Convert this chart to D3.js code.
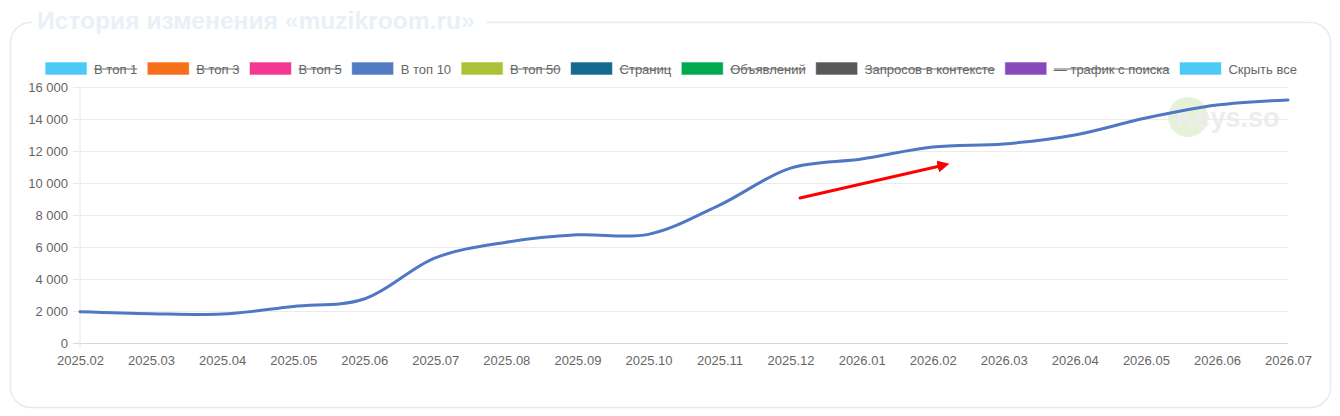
<!DOCTYPE html>
<html>
<head>
<meta charset="utf-8">
<script src="https://cdn.jsdelivr.net/npm/d3@7"></script>
<style>
  html, body { margin: 0; padding: 0; background: #fff; }
  svg { display: block; font-family: "Liberation Sans", Arial, Helvetica, sans-serif; }
</style>
</head>
<body>
<svg id="chart"></svg>
<script>
const W = 1340, H = 416;

const months = ["2025.02", "2025.03", "2025.04", "2025.05", "2025.06", "2025.07", "2025.08", "2025.09",
  "2025.10", "2025.11", "2025.12", "2026.01", "2026.02", "2026.03", "2026.04", "2026.05", "2026.06", "2026.07"];
const top10 = [1950, 1830, 1810, 2280, 2750, 5320, 6300, 6760, 6790, 8620, 10930, 11500, 12250, 12440,
  13000, 14060, 14870, 15190];
const yTicks = [0, 2000, 4000, 6000, 8000, 10000, 12000, 14000, 16000];

const legendLabels = ["В топ 1", "В топ 3", "В топ 5", "В топ 10", "В топ 50", "Страниц", "Объявлений",
  "Запросов в контексте", "— трафик с поиска", "Скрыть все"];
const legendColors = ["#4dc9f6", "#f67019", "#f53794", "#537bc4", "#acc236", "#166a8f", "#00a950",
  "#58595b", "#8549ba", "#4dc9f6"];
const legendHidden = [true, true, true, false, true, true, true, true, true, false];

const title = "История изменения «muzikroom.ru»";

const svg = d3.select("#chart").attr("width", W).attr("height", H);

// карточка с заголовком поверх рамки
svg.append("rect")
  .attr("x", 10.5).attr("y", 22.5).attr("width", 1320).attr("height", 385)
  .attr("rx", 20).attr("fill", "#fff").attr("stroke", "#e4ebf5").attr("stroke-width", 1.5);

const titleText = svg.append("text")
  .attr("x", 37).attr("y", 29)
  .attr("font-size", 24.6).attr("font-weight", "bold")
  .attr("fill", "#e9f0f8")
  .text(title);
const tw = titleText.node().getComputedTextLength();
svg.insert("rect", "text")
  .attr("x", 32).attr("y", 15).attr("width", tw + 17).attr("height", 14)
  .attr("fill", "#fff");

const margin = { left: 80, right: W - 1288, top: 87, bottom: H - 343 };

const x = d3.scalePoint().domain(months).range([margin.left, W - margin.right]);
const y = d3.scaleLinear().domain([0, 16000]).range([H - margin.bottom, margin.top]);

const fmt = d3.formatLocale({ decimal: ",", thousands: "\u00a0", grouping: [3], currency: ["", ""] }).format(",");

// водяной знак (под сеткой)
const wm = svg.append("g");
wm.append("circle").attr("cx", 1188).attr("cy", 117).attr("r", 20).attr("fill", "#e5f2d8");
wm.append("text").attr("x", 1176).attr("y", 127)
  .attr("font-size", 27).attr("font-weight", "bold").attr("fill", "#ededed")
  .text("Keys.so");

// сетка по Y
const gy = svg.append("g")
  .attr("transform", `translate(${margin.left},0)`)
  .call(d3.axisLeft(y).tickValues(yTicks).tickFormat(fmt)
    .tickSize(-(W - margin.left - margin.right)).tickPadding(12));
gy.select(".domain").remove();
gy.selectAll(".tick line")
  .attr("stroke", d => d === 0 ? "#d9d9d9" : "#ebebeb")
  .attr("x1", -7);
gy.selectAll(".tick text").attr("fill", "#666").attr("font-size", 13)
  .attr("font-family", "'Liberation Sans', Arial, sans-serif");

svg.append("line")
  .attr("x1", margin.left).attr("x2", margin.left)
  .attr("y1", margin.top).attr("y2", H - margin.bottom + 6)
  .attr("stroke", "#e6e6e6");

// ось X
const gx = svg.append("g")
  .attr("transform", `translate(0,${H - margin.bottom})`)
  .call(d3.axisBottom(x).tickSize(0).tickPadding(13));
gx.select(".domain").remove();
gx.selectAll(".tick text").attr("fill", "#666").attr("font-size", 13)
  .attr("font-family", "'Liberation Sans', Arial, sans-serif");

// линия
const line = d3.line()
  .x((d, i) => x(months[i]))
  .y(d => y(d))
  .curve(d3.curveCatmullRom.alpha(0.5));

svg.append("path")
  .datum(top10)
  .attr("fill", "none")
  .attr("stroke", "#4f77c4")
  .attr("stroke-width", 3)
  .attr("stroke-linecap", "round")
  .attr("d", line);

// красная стрелка
svg.append("defs").append("marker")
  .attr("id", "arrow").attr("viewBox", "0 0 10 10")
  .attr("refX", 2).attr("refY", 5)
  .attr("markerWidth", 4).attr("markerHeight", 4)
  .attr("orient", "auto")
  .append("path").attr("d", "M0,0 L10,5 L0,10 z").attr("fill", "#ff0000");

svg.append("line")
  .attr("x1", 800).attr("y1", 198).attr("x2", 940).attr("y2", 166)
  .attr("stroke", "#ff0000").attr("stroke-width", 3)
  .attr("stroke-linecap", "round")
  .attr("marker-end", "url(#arrow)");

// легенда
const lg = svg.append("g").attr("transform", "translate(0,62)");
const items = lg.selectAll("g.item").data(legendLabels).join("g").attr("class", "item");
items.append("rect")
  .attr("width", 42).attr("height", 13)
  .attr("fill", (d, i) => legendColors[i])
  .attr("stroke", "rgba(255,255,255,0.6)").attr("stroke-width", 1);
const lt = items.append("text")
  .attr("x", 49).attr("y", 11.5)
  .attr("font-size", 13).attr("fill", "#666")
  .text(d => d);

const widths = lt.nodes().map(n => n.getComputedTextLength());
const gap = 10;
const total = d3.sum(widths, w => 49 + w) + gap * (widths.length - 1);
let cx = 671 - total / 2;
items.each(function (d, i) {
  d3.select(this).attr("transform", `translate(${cx},0)`);
  if (legendHidden[i]) {
    d3.select(this).append("line")
      .attr("x1", 49).attr("x2", 49 + widths[i])
      .attr("y1", 7).attr("y2", 7)
      .attr("stroke", "#666").attr("stroke-width", 1.2);
  }
  cx += 49 + widths[i] + gap;
});
</script>
</body>
</html>
